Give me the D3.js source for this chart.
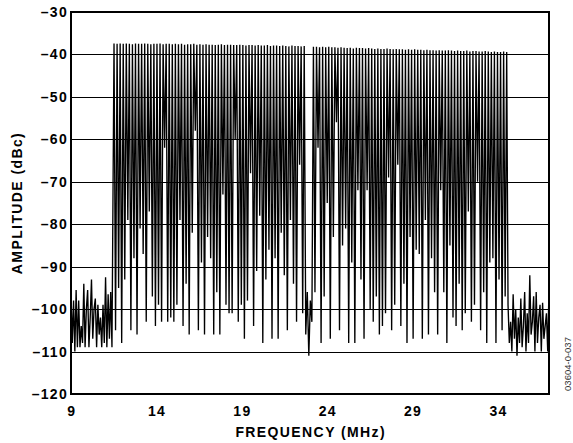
<!DOCTYPE html>
<head>
<meta charset="utf-8">
<style>
  body { margin: 0; background: white; }
  text { font-family: "Liberation Sans", Arial, sans-serif; }
  .tick-label { font-size: 14px; font-weight: bold; fill: black; letter-spacing: 1.3px; }
  .axis-title { font-size: 14px; font-weight: bold; fill: black; letter-spacing: 1.4px; }
  .grid { stroke: black; stroke-width: 1px; shape-rendering: crispEdges; }
  .trace { fill: none; stroke: black; stroke-width: 1.35px; stroke-linejoin: miter; }
</style>
</head>
<body>
<svg width="573" height="443"></svg>

<script src="https://cdnjs.cloudflare.com/ajax/libs/d3/7.8.5/d3.min.js"></script>
<script>

// axis ticks
var xTicks = [9, 14, 19, 24, 29, 34];
var yTicks = [-30, -40, -50, -60, -70, -80, -90, -100, -110, -120];

// multitone: first tone 11.52 MHz, spacing 0.1797 MHz, 129 tones (63,64 missing)
var toneStart = 11.52, toneStep = 0.1797;
var tonePeaks = [
  -37.4, -37.5, -37.4, -37.5, -37.4, -37.5, -37.6, -37.4, -37.5, -37.5,
  -37.4, -37.5, -37.6, -37.5, -37.5, -37.4, -37.6, -37.5, -37.5, -37.6,
  -37.5, -37.6, -37.5, -37.7, -37.6, -37.6, -37.5, -37.7, -37.6, -37.7,
  -37.6, -37.7, -37.7, -37.8, -37.7, -37.6, -37.8, -37.7, -37.7, -37.8,
  -37.8, -37.7, -37.8, -37.9, -37.8, -37.8, -37.9, -37.8, -37.9, -37.9,
  -37.8, -38.0, -37.9, -37.9, -38.0, -37.9, -38.0, -38.1, -37.9, -38.0,
  -38.0, -38.1, -38.0, -96, -98, -38.2, -38.2, -38.3, -38.2, -38.3,
  -38.2, -38.3, -38.3, -38.4, -38.3, -38.4, -38.5, -38.4, -38.6, -38.4,
  -38.5, -38.5, -38.6, -38.5, -38.6, -38.7, -38.6, -38.7, -38.7, -38.6,
  -38.7, -38.8, -38.7, -38.8, -38.8, -38.9, -38.8, -38.9, -38.8, -38.9,
  -38.9, -39.0, -38.9, -39.0, -39.0, -39.1, -39.0, -39.1, -39.1, -39.0,
  -39.1, -39.2, -39.1, -39.2, -39.2, -39.1, -39.3, -39.2, -39.2, -39.3,
  -39.3, -39.2, -39.3, -39.4, -39.3, -39.4, -39.4, -39.3, -39.4
];
// minimum between tone i and tone i+1
var toneValleys = [
  -105, -95, -108, -93, -79, -105, -88, -106, -81, -87,
  -103, -77, -97, -104, -99, -103, -62, -103, -102, -103,
  -99, -79, -104, -94, -106, -82, -58, -105, -89, -106,
  -83, -88, -106, -96, -106, -73, -99, -101, -101, -60,
  -103, -99, -107, -98, -68, -104, -91, -78, -108, -93,
  -86, -107, -88, -107, -82, -92, -105, -79, -94, -103,
  -66, -101, -106, -111, -103, -96, -62, -108, -97, -75,
  -107, -83, -56, -105, -85, -81, -108, -89, -108, -72,
  -93, -107, -72, -100, -103, -97, -106, -104, -101, -69,
  -105, -99, -66, -104, -94, -108, -83, -107, -86, -87,
  -107, -79, -106, -88, -96, -106, -72, -96, -108, -85,
  -102, -104, -94, -105, -101, -77, -103, -99, -70, -105,
  -96, -108, -89, -88, -108, -93, -105, -97
];

// noise floor outside the tone band, 0.075 MHz per point
var noiseStep = 0.075;
var noiseLeftStart = 9.0;
var noiseLeft = [
  -96, -108, -98, -110, -95.5, -109, -98, -109, -104, -108,
  -94, -109, -100, -95.5, -109, -102, -93, -107, -100, -97.5,
  -109, -99, -106, -102, -109, -99, -108, -92.5, -109, -96.5,
  -107, -96, -109
];
var noiseRightStart = 34.6;
var noiseRight = [
  -99, -108, -103, -110, -96.5, -107, -100, -111, -102, -108,
  -97.5, -109, -104, -96, -110, -101, -108, -92, -106, -103,
  -97, -110, -96, -108, -102, -99, -110, -98.5, -107, -104,
  -101, -110, -95
];

var svg = d3.select("svg");
var margin = {left: 71, right: 24, top: 12, bottom: 49};
var width = +svg.attr("width"), height = +svg.attr("height");

var x = d3.scaleLinear().domain([9, 37]).range([margin.left, width - margin.right]);
var y = d3.scaleLinear().domain([-120, -30]).range([height - margin.bottom, margin.top]);

// build the trace
var pts = [];
noiseLeft.forEach(function(v, k) { pts.push([noiseLeftStart + k * noiseStep, v]); });
tonePeaks.forEach(function(p, i) {
  var f = toneStart + i * toneStep;
  pts.push([f, p]);
  if (i < toneValleys.length) pts.push([f + toneStep / 2, toneValleys[i]]);
});
noiseRight.forEach(function(v, k) { pts.push([noiseRightStart + k * noiseStep, v]); });

// grid
svg.append("g").selectAll("line")
  .data(yTicks)
  .enter().append("line")
  .attr("class", "grid")
  .attr("x1", x(9)).attr("x2", x(37))
  .attr("y1", d => Math.round(y(d)) + 0.5)
  .attr("y2", d => Math.round(y(d)) + 0.5);

svg.append("clipPath").attr("id", "plot")
  .append("rect")
  .attr("x", x(9)).attr("y", y(-30))
  .attr("width", x(37) - x(9)).attr("height", y(-120) - y(-30));

var line = d3.line().x(d => x(d[0])).y(d => y(d[1]));

svg.append("path")
  .datum(pts)
  .attr("class", "trace")
  .attr("clip-path", "url(#plot)")
  .attr("d", line);

// frame
svg.append("rect")
  .attr("x", x(9)).attr("y", y(-30))
  .attr("width", x(37) - x(9)).attr("height", y(-120) - y(-30))
  .attr("fill", "none")
  .attr("stroke", "black")
  .attr("stroke-width", 2);

// y labels
svg.append("g").selectAll("text")
  .data(yTicks)
  .enter().append("text")
  .attr("class", "tick-label")
  .attr("x", 68)
  .attr("y", d => y(d) + 5)
  .attr("text-anchor", "end")
  .text(d => "\u2013" + Math.abs(d));

// x labels
svg.append("g").selectAll("text")
  .data(xTicks)
  .enter().append("text")
  .attr("class", "tick-label")
  .attr("x", d => x(d) + 0.7)
  .attr("y", 416)
  .attr("text-anchor", "middle")
  .text(d => d);

svg.append("text")
  .attr("class", "axis-title")
  .attr("x", x(23) + 0.7)
  .attr("y", 437)
  .attr("text-anchor", "middle")
  .text("FREQUENCY (MHz)");

svg.append("text")
  .attr("class", "axis-title")
  .attr("transform", "translate(22," + y(-75) + ") rotate(-90)")
  .attr("text-anchor", "middle")
  .text("AMPLITUDE (dBc)");

svg.append("text")
  .attr("transform", "translate(571,364) rotate(-90)")
  .attr("text-anchor", "middle")
  .style("font-size", "9.5px")
  .style("fill", "#333")
  .text("03604-0-037");

</script>
</body>
